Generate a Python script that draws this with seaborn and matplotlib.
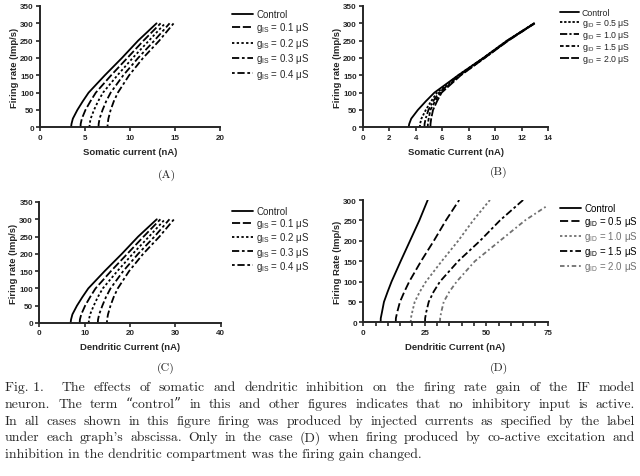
import numpy as np
import pandas as pd
import matplotlib
matplotlib.use("Agg")
import matplotlib.pyplot as plt
import seaborn as sns

rates = [0, 10, 25, 50, 75, 100, 150, 200, 250, 300]
rates_d_last = [0, 10, 25, 50, 75, 100, 150, 200, 250, 285]

# (A) somatic current, somatic inhibition
a_control = [3.45, 3.5, 3.65, 4.15, 4.75, 5.4, 7.2, 9.1, 10.9, 12.95]
a_g01 = [4.5, 4.52, 4.65, 5.05, 5.6, 6.2, 7.9, 9.7, 11.5, 13.4]
a_g02 = [5.5, 5.52, 5.63, 6.0, 6.45, 7.0, 8.6, 10.3, 12.1, 13.9]
a_g03 = [6.5, 6.52, 6.62, 6.95, 7.35, 7.85, 9.25, 10.9, 12.7, 14.4]
a_g04 = [7.5, 7.52, 7.6, 7.85, 8.2, 8.65, 9.9, 11.45, 13.25, 14.85]

# (B) somatic current, dendritic inhibition
b_control = [3.45, 3.5, 3.65, 4.15, 4.75, 5.4, 7.2, 9.1, 10.9, 12.95]
b_g05 = [4.3, 4.32, 4.42, 4.75, 5.15, 5.6, 7.2, 9.1, 10.9, 12.95]
b_g10 = [4.65, 4.66, 4.74, 4.95, 5.3, 5.75, 7.3, 9.15, 10.95, 12.95]
b_g15 = [4.9, 4.91, 4.97, 5.1, 5.45, 5.85, 7.35, 9.2, 10.95, 13.0]
b_g20 = [5.1, 5.11, 5.16, 5.3, 5.6, 5.95, 7.4, 9.2, 11.0, 13.0]

# (C) dendritic current, somatic inhibition
c_control = [6.9, 7.0, 7.3, 8.3, 9.5, 10.8, 14.4, 18.2, 21.8, 25.9]
c_g01 = [8.9, 8.95, 9.25, 10.1, 11.2, 12.4, 15.8, 19.4, 23.0, 26.7]
c_g02 = [10.9, 10.95, 11.2, 12.0, 12.9, 14.0, 17.2, 20.6, 24.2, 27.7]
c_g03 = [12.9, 12.95, 13.2, 13.9, 14.7, 15.7, 18.5, 21.8, 25.4, 28.7]
c_g04 = [14.9, 14.95, 15.15, 15.7, 16.4, 17.3, 19.8, 22.9, 26.5, 29.7]

# (D) dendritic current, dendritic inhibition
d_control = [7.05, 7.1, 7.6, 8.4, 9.9, 11.5, 15.2, 19.0, 22.8, 26.2]
d_g05 = [13.2, 13.25, 13.8, 14.9, 16.7, 18.7, 23.5, 28.7, 33.6, 39.0]
d_g10 = [19.3, 19.35, 19.9, 20.9, 23.0, 25.5, 31.9, 38.6, 44.7, 51.5]
d_g15 = [25.1, 25.15, 25.6, 26.6, 28.6, 31.2, 38.6, 47.5, 55.6, 65.0]
d_g20 = [31.2, 31.25, 31.7, 32.7, 35.0, 38.0, 45.4, 55.6, 65.8, 74.6]

labels_is = ["Control", r"$\mathregular{g_{IS}}$ = 0.1 μS", r"$\mathregular{g_{IS}}$ = 0.2 μS",
             r"$\mathregular{g_{IS}}$ = 0.3 μS", r"$\mathregular{g_{IS}}$ = 0.4 μS"]
labels_id = ["Control", r"$\mathregular{g_{ID}}$ = 0.5 μS", r"$\mathregular{g_{ID}}$ = 1.0 μS",
             r"$\mathregular{g_{ID}}$ = 1.5 μS", r"$\mathregular{g_{ID}}$ = 2.0 μS"]

caption = [
    "Fig. 1.  The effects of somatic and dendritic inhibition on the firing rate gain of the IF model",
    "neuron. The term “control” in this and other figures indicates that no inhibitory input is active.",
    "In all cases shown in this figure firing was produced by injected currents as specified by the label",
    "under each graph's abscissa. Only in the case (D) when firing produced by co-active excitation and",
    "inhibition in the dendritic compartment was the firing gain changed.",
]

sns.set_style("ticks")
plt.rcParams["font.family"] = ["Liberation Sans", "DejaVu Sans"]
plt.rcParams["mathtext.fontset"] = "custom"
plt.rcParams["mathtext.rm"] = "Liberation Sans"

W, H = 640, 477
fig = plt.figure(figsize=(W / 100, H / 100), dpi=100)


def px_axes(x0, x1, ybot, ytop):
    return fig.add_axes([x0 / W, 1 - ybot / H, (x1 - x0) / W, (ybot - ytop) / H])


def draw(ax, curves, styles, colors):
    for (xs, ys), ls, col in zip(curves, styles, colors):
        sns.lineplot(x=xs, y=ys, ax=ax, color=col, linestyle=ls, linewidth=1.3,
                     sort=False, estimator=None)


def style_axes(ax, xlim, xticks, ylim, yticks, xlabel, ylabel):
    ax.set_xlim(*xlim)
    ax.set_ylim(*ylim)
    ax.set_xticks(xticks)
    ax.set_yticks(yticks)
    ax.set_xlabel(xlabel, fontsize=6.8, fontweight="bold", labelpad=4.5)
    ax.set_ylabel(ylabel, fontsize=6.8, fontweight="bold", labelpad=1)
    ax.tick_params(axis="both", labelsize=5.8, length=3, width=1.2, pad=1.5)
    for t in ax.get_xticklabels() + ax.get_yticklabels():
        t.set_fontweight("bold")
    for s in ["left", "bottom"]:
        ax.spines[s].set_linewidth(1.4)
    sns.despine(ax=ax)


def add_legend(ax, labels, x, y, spacing, size=7, label_colors=None):
    handles = ax.get_lines()
    leg = ax.legend(handles, labels, loc="upper left", bbox_to_anchor=(x / W, 1 - y / H),
                    bbox_transform=fig.transFigure, frameon=False, fontsize=size,
                    handlelength=2.2, handletextpad=0.3, labelspacing=spacing,
                    borderpad=0, borderaxespad=0)
    if label_colors:
        for t, c in zip(leg.get_texts(), label_colors):
            t.set_color(c)


dash_is = ["-", (0, (4.5, 1.5)), (0, (1.3, 1.3)), (0, (4, 1.5, 1.5, 1.5)), (0, (1.5, 1.5, 4, 1.5))]
dash_idb = ["-", (0, (1.3, 1.0)), (0, (4, 1.2, 1.2, 1.2)), (0, (2, 1.2)), (0, (5, 1.2))]
dash_idd = ["-", (0, (4.5, 1.8)), (0, (1.3, 1.3)), (0, (4, 1.5, 1.5, 1.5)), (0, (2.5, 1.5, 1, 1.5))]

# (A)
axA = px_axes(40, 220, 128.3, 7)
draw(axA, [(a_control, rates), (a_g01, rates), (a_g02, rates), (a_g03, rates), (a_g04, rates)],
     dash_is, ["black"] * 5)
style_axes(axA, (0, 20), [0, 5, 10, 15, 20], (0, 350), range(0, 351, 50),
           "Somatic current (nA)", "Firing rate (Imp/s)")
add_legend(axA, labels_is, 232, 10, 0.15)

# (B)
axB = px_axes(363, 548, 128.3, 7)
draw(axB, [(b_control, rates), (b_g05, rates), (b_g10, rates), (b_g15, rates), (b_g20, rates)],
     dash_idb, ["black"] * 5)
style_axes(axB, (0, 14), range(0, 15, 2), (0, 350), range(0, 351, 50),
           "Somatic Current (nA)", "Firing rate (Imp/s)")
add_legend(axB, labels_id, 560, 9, 0.0, size=6.3)

# (C)
axC = px_axes(39.3, 220.7, 324, 203)
draw(axC, [(c_control, rates), (c_g01, rates), (c_g02, rates), (c_g03, rates), (c_g04, rates)],
     dash_is, ["black"] * 5)
style_axes(axC, (0, 40), [0, 10, 20, 30, 40], (0, 350), range(0, 351, 50),
           "Dendritic Current (nA)", "Firing rate (Imp/s)")
add_legend(axC, labels_is, 232, 207, 0.02)

# (D)
axD = px_axes(363.3, 547.7, 323.3, 201)
gray = "#707070"
draw(axD, [(d_control, rates), (d_g05, rates), (d_g10, rates), (d_g15, rates), (d_g20, rates_d_last)],
     dash_idd, ["black", "black", gray, "black", gray])
style_axes(axD, (0, 75), [0, 25, 50, 75], (0, 300), range(0, 301, 50),
           "Dendritic Current (nA)", "Firing Rate (Imp/s)")
axD.set_xticks(range(0, 76, 5), minor=True)
axD.tick_params(axis="x", which="minor", length=3, width=1.2)
add_legend(axD, labels_id, 560, 204, 0.11, label_colors=["black", "black", gray, "black", gray])

# panel captions
serif = ["cmr10", "DejaVu Serif"]
for lab, x, y in [("(A)", 167, 175), ("(B)", 499, 172), ("(C)", 166, 368), ("(D)", 499, 368)]:
    fig.text(x / W, 1 - y / H, lab, ha="center", va="center", fontsize=8.5, family=serif)

# justified figure caption
renderer = fig.canvas.get_renderer()
left_px, right_px = 5, 635
line_y = [388, 404.5, 421.5, 438, 455]
for i, line in enumerate(caption):
    y = 1 - line_y[i] / H
    if i == len(caption) - 1:
        fig.text(left_px / W, y, line, va="center", fontsize=9.9, family=serif)
        continue
    words = line.replace("Fig. 1.  ", "Fig.~1.~~ ").split(" ")
    words = [w.replace("~", " ") for w in words]
    objs = [fig.text(0, y, w, va="center", fontsize=9.9, family=serif) for w in words]
    widths = [o.get_window_extent(renderer).width for o in objs]
    gap = (right_px - left_px - sum(widths)) / (len(words) - 1)
    xpos = left_px
    for o, w in zip(objs, widths):
        o.set_x(xpos / W)
        xpos += w + gap

fig.savefig("out.png", dpi=100)
